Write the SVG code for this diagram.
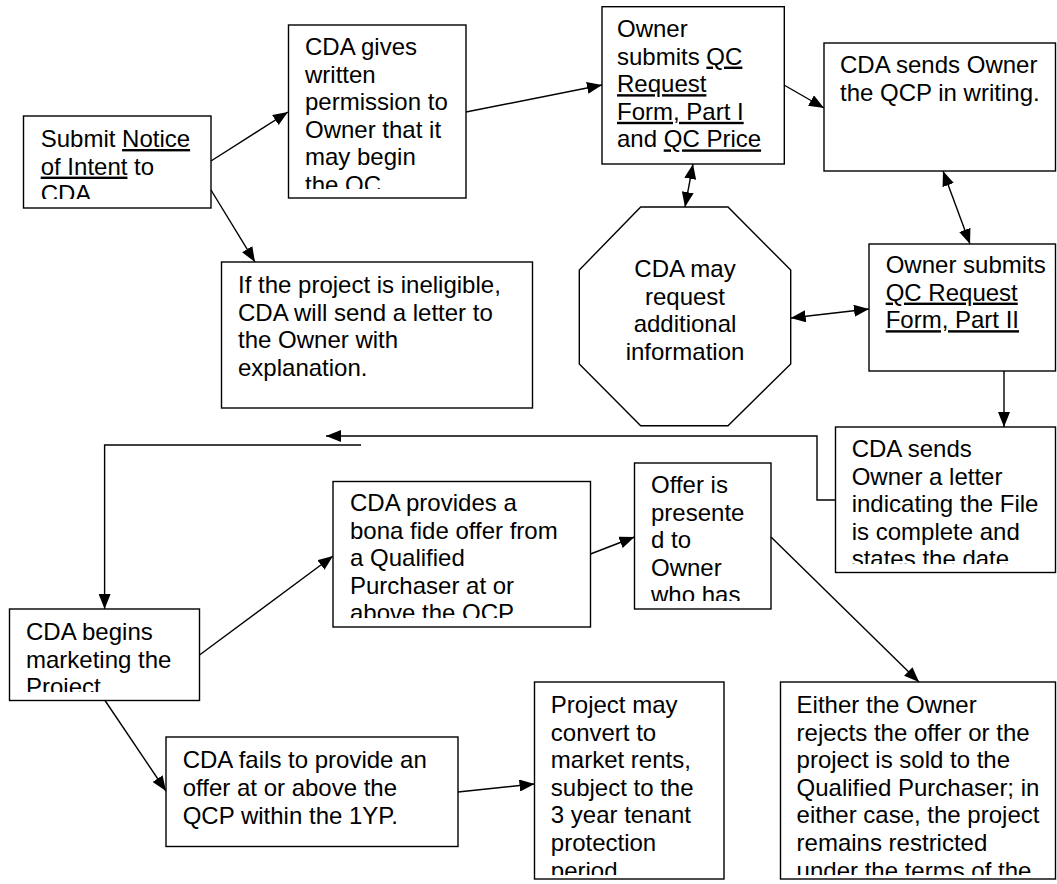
<svg xmlns="http://www.w3.org/2000/svg" width="1057" height="884" viewBox="0 0 1057 884">
<style>
.box{fill:#fff;stroke:#000;stroke-width:1.4}
.t{font-family:"Liberation Sans",Arial,sans-serif;font-size:24px;fill:#000}
.c{text-anchor:middle}
.u{text-decoration:underline}
.ln{fill:none;stroke:#000;stroke-width:1.4}
</style>
<defs>
<marker id="ah" viewBox="0 0 15 12" refX="15" refY="6" markerWidth="15" markerHeight="12" markerUnits="userSpaceOnUse" orient="auto-start-reverse"><path d="M0,0 L15,6 L0,12 z" fill="#000"/></marker>
<clipPath id="k1"><rect x="24" y="116" width="187" height="83"/></clipPath>
<clipPath id="k2"><rect x="289" y="25" width="177" height="164"/></clipPath>
<clipPath id="k8"><rect x="836" y="427" width="220" height="137"/></clipPath>
<clipPath id="k9"><rect x="333" y="482" width="257" height="136"/></clipPath>
<clipPath id="k10"><rect x="635" y="463" width="136" height="138"/></clipPath>
<clipPath id="k11"><rect x="10" y="609" width="190" height="83"/></clipPath>
<clipPath id="k13"><rect x="535" y="682" width="189" height="193"/></clipPath>
<clipPath id="k14"><rect x="781" y="682" width="275" height="193"/></clipPath>
</defs>
<rect width="1057" height="884" fill="#fff"/>

<g id="n1">
<rect class="box" x="23.5" y="116" width="187.5" height="92"/>
<text class="t" clip-path="url(#k1)"><tspan x="40.7" y="147">Submit <tspan class="u">Notice</tspan></tspan><tspan x="40.7" y="174.6"><tspan class="u">of Intent</tspan> to</tspan><tspan x="40.7" y="202.2">CDA</tspan></text>
</g>
<g id="n2">
<rect class="box" x="288.5" y="25" width="177.5" height="173"/>
<text class="t" clip-path="url(#k2)"><tspan x="305" y="55">CDA gives</tspan><tspan x="305" y="82.6">written</tspan><tspan x="305" y="110.2">permission to</tspan><tspan x="305" y="137.8">Owner that it</tspan><tspan x="305" y="165.4">may begin</tspan><tspan x="305" y="193">the QC</tspan></text>
</g>
<g id="n3">
<rect class="box" x="602" y="6.7" width="182.3" height="157.3"/>
<text class="t"><tspan x="617" y="37">Owner</tspan><tspan x="617" y="64.6">submits <tspan class="u">QC</tspan></tspan><tspan x="617" y="92.2" class="u">Request</tspan><tspan x="617" y="119.8" class="u">Form, Part I</tspan><tspan x="617" y="147.4">and <tspan class="u">QC Price</tspan></tspan></text>
</g>
<g id="n4">
<rect class="box" x="824" y="43" width="231.5" height="128"/>
<text class="t"><tspan x="840" y="73">CDA sends Owner</tspan><tspan x="840" y="100.6">the QCP in writing.</tspan></text>
</g>
<g id="n5">
<rect class="box" x="869" y="244" width="186.5" height="127"/>
<text class="t"><tspan x="885.7" y="273">Owner submits</tspan><tspan x="885.7" y="300.6" class="u">QC Request</tspan><tspan x="885.7" y="328.2" class="u">Form, Part II</tspan></text>
</g>
<g id="n6">
<rect class="box" x="221.5" y="262" width="311" height="146"/>
<text class="t"><tspan x="238" y="293">If the project is ineligible,</tspan><tspan x="238" y="320.6">CDA will send a letter to</tspan><tspan x="238" y="348.2">the Owner with</tspan><tspan x="238" y="375.8">explanation.</tspan></text>
</g>
<g id="n7">
<polygon class="box" points="640.7,207 728,207 790.7,270 790.7,364 728,425.7 640.7,425.7 579.3,364 579.3,270"/>
<text class="t c"><tspan x="685" y="277">CDA may</tspan><tspan x="685" y="304.6">request</tspan><tspan x="685" y="332.2">additional</tspan><tspan x="685" y="359.8">information</tspan></text>
</g>
<g id="n8">
<rect class="box" x="835.5" y="427" width="220" height="145.5"/>
<text class="t" clip-path="url(#k8)"><tspan x="851.7" y="457">CDA sends</tspan><tspan x="851.7" y="484.6">Owner a letter</tspan><tspan x="851.7" y="512.2">indicating the File</tspan><tspan x="851.7" y="539.8">is complete and</tspan><tspan x="851.7" y="567.4">states the date</tspan></text>
</g>
<g id="n9">
<rect class="box" x="333" y="481.5" width="257.5" height="145.5"/>
<text class="t" clip-path="url(#k9)"><tspan x="350" y="511">CDA provides a</tspan><tspan x="350" y="538.6">bona fide offer from</tspan><tspan x="350" y="566.2">a Qualified</tspan><tspan x="350" y="593.8">Purchaser at or</tspan><tspan x="350" y="621.4">above the QCP</tspan></text>
</g>
<g id="n10">
<rect class="box" x="634.5" y="463" width="136.5" height="146"/>
<text class="t" clip-path="url(#k10)"><tspan x="651" y="493">Offer is</tspan><tspan x="651" y="520.6">presente</tspan><tspan x="651" y="548.2">d to</tspan><tspan x="651" y="575.8">Owner</tspan><tspan x="651" y="603.4">who has</tspan></text>
</g>
<g id="n11">
<rect class="box" x="9.5" y="609" width="190" height="91.5"/>
<text class="t" clip-path="url(#k11)"><tspan x="26" y="640">CDA begins</tspan><tspan x="26" y="667.6">marketing the</tspan><tspan x="26" y="695.2">Project</tspan></text>
</g>
<g id="n12">
<rect class="box" x="166" y="737" width="292" height="109.5"/>
<text class="t"><tspan x="182.7" y="768.3">CDA fails to provide an</tspan><tspan x="182.7" y="795.9">offer at or above the</tspan><tspan x="182.7" y="823.5">QCP within the 1YP.</tspan></text>
</g>
<g id="n13">
<rect class="box" x="534.5" y="682" width="189.5" height="197"/>
<text class="t" clip-path="url(#k13)"><tspan x="550.8" y="713">Project may</tspan><tspan x="550.8" y="740.6">convert to</tspan><tspan x="550.8" y="768.2">market rents,</tspan><tspan x="550.8" y="795.8">subject to the</tspan><tspan x="550.8" y="823.4">3 year tenant</tspan><tspan x="550.8" y="851">protection</tspan><tspan x="550.8" y="878.6">period</tspan></text>
</g>
<g id="n14">
<rect class="box" x="780.5" y="682" width="275" height="197"/>
<text class="t" clip-path="url(#k14)"><tspan x="796.6" y="713">Either the Owner</tspan><tspan x="796.6" y="740.6">rejects the offer or the</tspan><tspan x="796.6" y="768.2">project is sold to the</tspan><tspan x="796.6" y="795.8">Qualified Purchaser; in</tspan><tspan x="796.6" y="823.4">either case, the project</tspan><tspan x="796.6" y="851">remains restricted</tspan><tspan x="796.6" y="878.6">under the terms of the</tspan></text>
</g>

<g id="connectors">
<line class="ln" x1="211" y1="161" x2="288" y2="112" marker-end="url(#ah)"/>
<line class="ln" x1="211" y1="190" x2="255" y2="262" marker-end="url(#ah)"/>
<line class="ln" x1="466" y1="112" x2="602" y2="85" marker-end="url(#ah)"/>
<line class="ln" x1="784" y1="85" x2="824" y2="108" marker-end="url(#ah)"/>
<line class="ln" x1="693" y1="164" x2="685" y2="207" marker-start="url(#ah)" marker-end="url(#ah)"/>
<line class="ln" x1="943" y1="171" x2="970" y2="244" marker-start="url(#ah)" marker-end="url(#ah)"/>
<line class="ln" x1="790.7" y1="318" x2="869" y2="309" marker-start="url(#ah)" marker-end="url(#ah)"/>
<line class="ln" x1="1004" y1="371" x2="1004" y2="427" marker-end="url(#ah)"/>
<polyline class="ln" points="835.5,500 817,500 817,436 326,436" marker-end="url(#ah)"/>
<polyline class="ln" points="361,445 104.6,445 104.6,609" marker-end="url(#ah)"/>
<line class="ln" x1="199.5" y1="655" x2="333" y2="556" marker-end="url(#ah)"/>
<line class="ln" x1="590.5" y1="554" x2="634.5" y2="537" marker-end="url(#ah)"/>
<line class="ln" x1="771" y1="537" x2="919" y2="682" marker-end="url(#ah)"/>
<line class="ln" x1="105" y1="700.5" x2="166" y2="791" marker-end="url(#ah)"/>
<line class="ln" x1="458" y1="792" x2="534.5" y2="784" marker-end="url(#ah)"/>
</g>
</svg>
